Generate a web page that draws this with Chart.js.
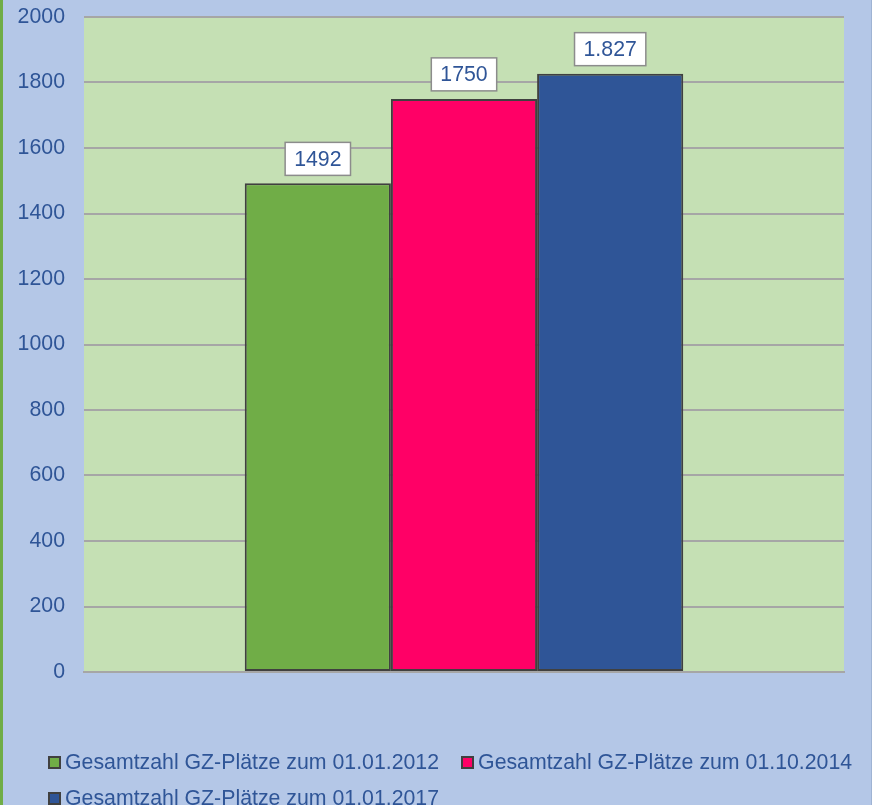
<!DOCTYPE html>
<html>
<head>
<meta charset="utf-8">
<script src="https://cdn.jsdelivr.net/npm/chart.js@4/dist/chart.umd.min.js"></script>
<style>
  html, body { margin: 0; padding: 0; }
  body {
    width: 872px; height: 805px; overflow: hidden; position: relative;
    background: #b4c7e7;
    font-family: "Liberation Sans", Arial, sans-serif;
  }
  #frame {
    position: absolute; left: 0; top: 0; width: 868px; height: 805px;
    border-left: 3px solid #70ad47; border-right: 1px solid #9fb3d3;
  }
  #wrap { position: absolute; left: 3px; top: 0; width: 868px; height: 805px; }
  #legend {
    position: absolute; left: 48px; top: 751px; width: 840px;
    display: flex; flex-wrap: wrap; row-gap: 13px;
    font-size: 21.3px; color: #2f5597; line-height: 23px;
  }
  .item { display: flex; align-items: center; margin-right: 22px; white-space: nowrap; }
  .box { width: 9px; height: 9px; border: 2px solid #404040; margin-right: 4px; }
</style>
</head>
<body>
<div id="frame"></div>
<div id="wrap"><canvas id="myChart" width="868" height="805"></canvas></div>
<div id="legend"></div>
<script>
// Chart data
const categories = [""];
const seriesNames = [
  "Gesamtzahl GZ-Plätze zum 01.01.2012",
  "Gesamtzahl GZ-Plätze zum 01.10.2014",
  "Gesamtzahl GZ-Plätze zum 01.01.2017"
];
const values2012 = [1492];
const values2014 = [1750];
const values2017 = [1827];
const valueLabels = ["1492", "1750", "1.827"];
const yTicks = [0, 200, 400, 600, 800, 1000, 1200, 1400, 1600, 1800, 2000];

const barColors = ["#70ad47", "#ff0066", "#2f5597"];
const textColor = "#2f5597";
const font = { family: "'Liberation Sans', Arial, sans-serif", size: 21.3 };

// plot area background
const plotBg = {
  id: "plotBg",
  beforeDraw(chart) {
    const a = chart.chartArea;
    const ctx = chart.ctx;
    ctx.save();
    ctx.fillStyle = "#c5e0b4";
    ctx.fillRect(a.left, a.top, a.right - a.left, a.bottom - a.top);
    ctx.restore();
  }
};

// value labels in white boxes above the bars
const boxLabels = {
  id: "boxLabels",
  afterDatasetsDraw(chart) {
    const ctx = chart.ctx;
    ctx.save();
    ctx.font = font.size + "px " + font.family;
    ctx.textAlign = "center";
    ctx.textBaseline = "middle";
    chart.data.datasets.forEach((ds, i) => {
      const bar = chart.getDatasetMeta(i).data[0];
      const txt = valueLabels[i];
      const w = ctx.measureText(txt).width + 18;
      const h = 33;
      const x = bar.x - w / 2;
      const y = bar.y - 8 - h;
      ctx.fillStyle = "#ffffff";
      ctx.fillRect(x, y, w, h);
      ctx.strokeStyle = "#8c8c8c";
      ctx.lineWidth = 1.5;
      ctx.strokeRect(x, y, w, h);
      ctx.fillStyle = textColor;
      ctx.fillText(txt, bar.x, y + h / 2 + 1);
    });
    ctx.restore();
  }
};

const seriesValues = [values2012, values2014, values2017];

const ctx = document.getElementById("myChart").getContext("2d");
const myChart = new Chart(ctx, {
  type: "bar",
  data: {
    labels: categories,
    datasets: seriesValues.map((vals, i) => ({
      label: seriesNames[i],
      data: vals,
      backgroundColor: barColors[i],
      borderColor: "#404040",
      borderWidth: 2,
      borderSkipped: false,
      barPercentage: 1,
      categoryPercentage: 0.577
    }))
  },
  options: {
    responsive: false,
    animation: false,
    layout: { padding: { left: 0, top: 17, right: 27, bottom: 125 } },
    plugins: {
      legend: { display: false },
      tooltip: { enabled: false }
    },
    scales: {
      x: {
        ticks: { display: false },
        grid: { display: false },
        border: { display: true, color: "#a6a6a6", width: 2 }
      },
      y: {
        min: 0,
        max: 2000,
        afterBuildTicks(scale) {
          scale.ticks = yTicks.map(v => ({ value: v }));
        },
        afterFit(scale) {
          scale.width = 81;
          scale.paddingTop = 0;
          scale.paddingBottom = 0;
        },
        ticks: { color: textColor, font: font, padding: 19, callback: v => String(v) },
        grid: { color: "#a6a6a6", lineWidth: 2, drawTicks: false },
        border: { display: false }
      }
    }
  },
  plugins: [plotBg, boxLabels]
});

// legend built from the series names
const legend = document.getElementById("legend");
seriesNames.forEach((name, i) => {
  const item = document.createElement("div");
  item.className = "item";
  const box = document.createElement("span");
  box.className = "box";
  box.style.background = barColors[i];
  item.appendChild(box);
  item.appendChild(document.createTextNode(name));
  legend.appendChild(item);
});
</script>
</body>
</html>
